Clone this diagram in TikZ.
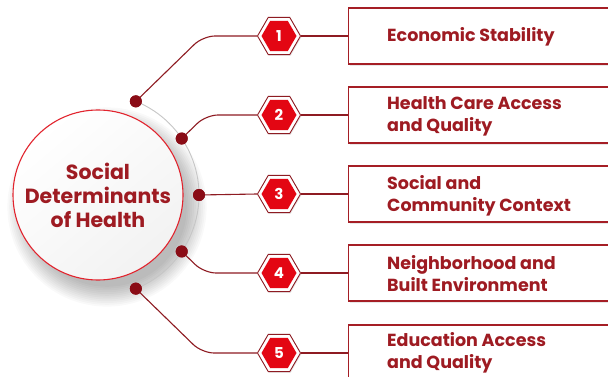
\documentclass[tikz,border=0pt]{standalone}
\usepackage{fontspec}
\setmainfont{Poppins}
\usetikzlibrary{shapes.geometric,shadows,calc}
\definecolor{txtred}{HTML}{9E1B22}
\definecolor{linered}{HTML}{8E1B22}
\definecolor{dotred}{HTML}{8A0C16}
\definecolor{hexred}{HTML}{E30613}
\definecolor{circred}{HTML}{E2242E}
\definecolor{boxred}{HTML}{A51E25}
\tikzset{
  conn/.style={draw=linered, line width=1.1pt, rounded corners=12pt},
  dotnode/.style={circle, fill=dotred, minimum size=12pt, inner sep=0pt},
  hexout/.style={regular polygon, regular polygon sides=6, minimum size=43pt, inner sep=0pt, draw=linered, fill=white, line width=0.9pt, drop shadow={shadow xshift=1pt, shadow yshift=-1pt, opacity=0.2}},
  hexin/.style={regular polygon, regular polygon sides=6, minimum size=35pt, inner sep=0pt, fill=hexred, text=white, font=\fontsize{15}{15}\selectfont\bfseries},
  boxnode/.style={rectangle, draw=boxred, fill=white, line width=1.1pt, minimum width=300pt, minimum height=56pt, anchor=west, drop shadow={shadow xshift=1.5pt, shadow yshift=-2pt, opacity=0.18}},
  boxtext/.style={anchor=west, align=left, text=txtred, font=\fontsize{17.5}{22}\selectfont\bfseries, inner sep=0pt},
}
\begin{document}
\begin{tikzpicture}[x=1pt,y=-1pt]
\useasboundingbox (0,0) rectangle (608,377);
\clip (0,0) rectangle (608,377);
\fill[white] (0,0) rectangle (608,377);
% circle shadow
\foreach \i in {1,...,12} {
  \fill[black, opacity=0.022] (107,207) circle[radius=78+1.8*\i];
}
\node[circle, minimum size=170pt, draw=circred, line width=1.1pt, inner sep=0pt,
      top color=white, bottom color=gray!10, shading angle=40,
      align=center, text=txtred, font=\fontsize{20.5}{24}\selectfont\bfseries] (c) at (98,195)
      {Social\\Determinants\\of Health};
% gray arc
\draw[gray!45, line width=0.9pt] ($(c.center)+(-68:101)$) arc[start angle=-68, end angle=68, radius=101];
% dots
\node[dotnode] (d1) at ($(c.center)+(-68:101)$) {};
\node[dotnode] (d2) at ($(c.center)+(-34:101)$) {};
\node[dotnode] (d3) at ($(c.center)+(0:101)$) {};
\node[dotnode] (d4) at ($(c.center)+(34:101)$) {};
\node[dotnode] (d5) at ($(c.center)+(68:101)$) {};
% boxes
\node[boxnode] (b1) at (348,36) {};
\node[boxnode] (b2) at (348,115) {};
\node[boxnode] (b3) at (348,194) {};
\node[boxnode] (b4) at (348,273) {};
\node[boxnode] (b5) at (348,353) {};
\node[boxtext] (t1) at (387,37) {Economic Stability};
\node[boxtext] (t2) at (387,116) {Health Care Access\\and Quality};
\node[boxtext] (t3) at (387,196) {Social and\\Community Context};
\node[boxtext] (t4) at (387,274) {Neighborhood and\\Built Environment};
\node[boxtext] (t5) at (387,353) {Education Access\\and Quality};
% hexagons
\foreach \n/\y in {1/36,2/115,3/194,4/273,5/353} {
  \node[hexout] (h\n) at (279,\y) {};
  \node[hexin] (hi\n) at (279,\y) {\n};
}
% corner coordinates
\coordinate (k1) at (203,36);
\coordinate (k2) at (206,115);
\coordinate (k4) at (204,273);
\coordinate (k5) at (202,353);
% connectors
\draw[conn] (d1.center) -- (k1) -- (h1.west);
\draw[conn] (d2.center) -- (k2) -- (h2.west);
\draw[conn] (d3.center) -- (h3.west);
\draw[conn] (d4.center) -- (k4) -- (h4.west);
\draw[conn] (d5.center) -- (k5) -- (h5.west);
\foreach \n in {1,...,5} { \draw[conn] (h\n.east) -- (b\n.west); }
% redraw dots on top
\foreach \n in {1,...,5} { \fill[dotred] (d\n.center) circle[radius=6]; }
\end{tikzpicture}
\end{document}
